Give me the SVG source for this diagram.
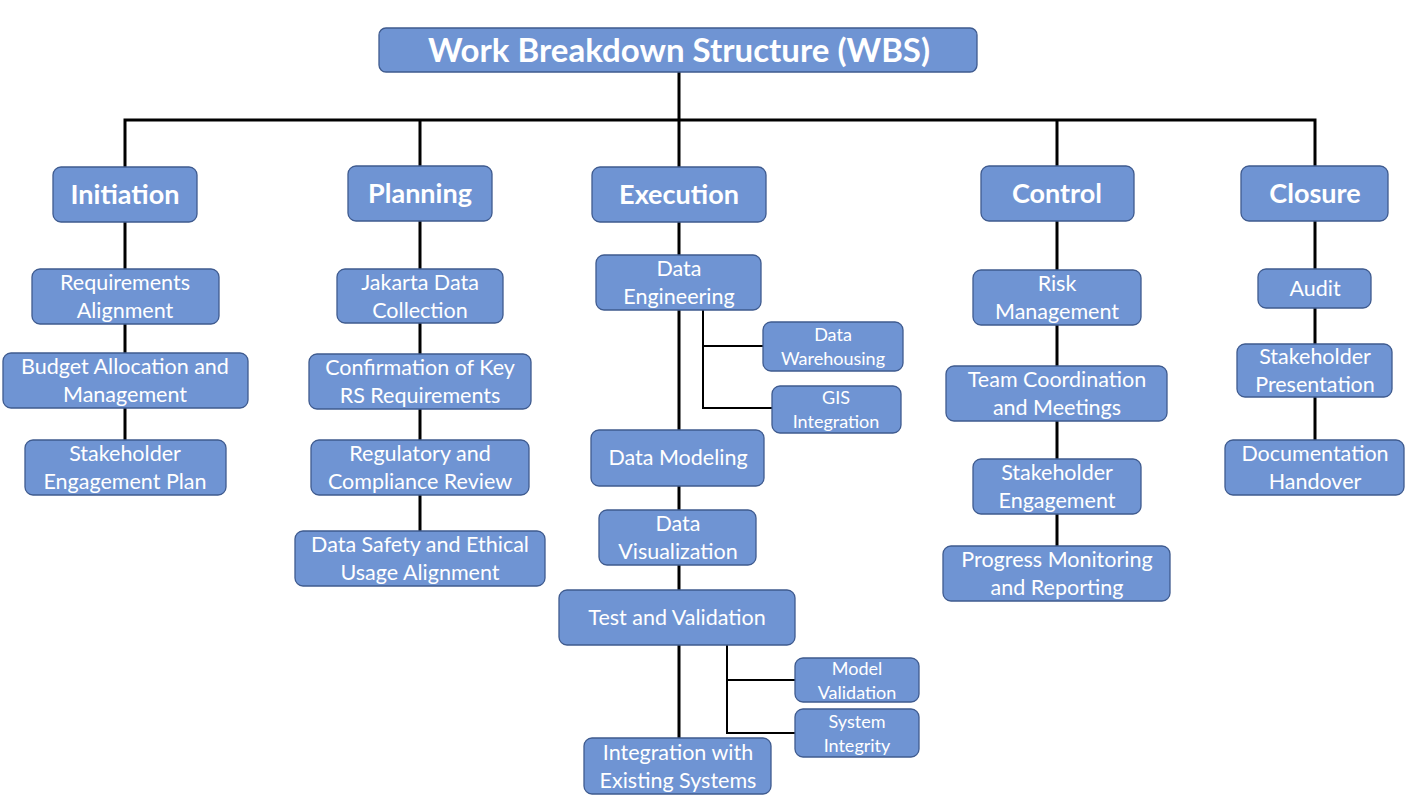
<svg xmlns="http://www.w3.org/2000/svg" width="1428" height="802" viewBox="0 0 1428 802">
<style>
.b{fill:#6f94d3;stroke:#3f5b8f;stroke-width:1.3}
.t{font-family:Lato,"Open Sans",sans-serif;fill:#fff;text-anchor:middle;font-size:21.5px}
.h{font-weight:bold;font-size:27px}
.ti{font-weight:bold;font-size:33px}
.s{font-size:18px}
.c{fill:none;stroke:#000;stroke-width:3;stroke-linecap:square}
.c2{fill:none;stroke:#000;stroke-width:2}
</style>
<rect width="1428" height="802" fill="#fff"/>
<g id="connectors">
<path class="c" d="M125 120H1315M125 120V440M420 120V531M679 72V738M1057 120V546M1315 120V440"/>
<path class="c2" d="M703 310V408H772M703 346H763M727 645V733H795M727 680H795"/>
</g>
<g id="wbs"><rect class="b" x="379" y="28" width="598" height="44" rx="7"/><text class="t ti" x="679" y="62">Work Breakdown Structure (WBS)</text></g>
<g id="initiation"><rect class="b" x="53" y="167" width="144" height="55" rx="8"/><text class="t h" x="125" y="204">Initiation</text></g>
<g id="planning"><rect class="b" x="348" y="166" width="144" height="55" rx="8"/><text class="t h" x="420" y="203">Planning</text></g>
<g id="execution"><rect class="b" x="592" y="167" width="174" height="55" rx="8"/><text class="t h" x="679" y="204">Execution</text></g>
<g id="control"><rect class="b" x="981" y="166" width="153" height="55" rx="8"/><text class="t h" x="1057" y="203">Control</text></g>
<g id="closure"><rect class="b" x="1241" y="166" width="147" height="55" rx="8"/><text class="t h" x="1315" y="203">Closure</text></g>

<g id="req"><rect class="b" x="32" y="269" width="187" height="55" rx="8"/><text class="t" x="125" y="290">Requirements</text><text class="t" x="125" y="318">Alignment</text></g>
<g id="budget"><rect class="b" x="3" y="353" width="245" height="55" rx="8"/><text class="t" x="125" y="374">Budget Allocation and</text><text class="t" x="125" y="402">Management</text></g>
<g id="stakeplan"><rect class="b" x="25" y="440" width="201" height="55" rx="8"/><text class="t" x="125" y="461">Stakeholder</text><text class="t" x="125" y="489">Engagement Plan</text></g>

<g id="jakarta"><rect class="b" x="337" y="269" width="166" height="54" rx="8"/><text class="t" x="420" y="290">Jakarta Data</text><text class="t" x="420" y="318">Collection</text></g>
<g id="confirm"><rect class="b" x="309" y="354" width="222" height="55" rx="8"/><text class="t" x="420" y="375">Confirmation of Key</text><text class="t" x="420" y="403">RS Requirements</text></g>
<g id="regulatory"><rect class="b" x="311" y="440" width="218" height="55" rx="8"/><text class="t" x="420" y="461">Regulatory and</text><text class="t" x="420" y="489">Compliance Review</text></g>
<g id="safety"><rect class="b" x="295" y="531" width="250" height="55" rx="8"/><text class="t" x="420" y="552">Data Safety and Ethical</text><text class="t" x="420" y="580">Usage Alignment</text></g>

<g id="dataeng"><rect class="b" x="596" y="255" width="165" height="55" rx="8"/><text class="t" x="679" y="276">Data</text><text class="t" x="679" y="304">Engineering</text></g>
<g id="warehouse"><rect class="b" x="763" y="322" width="140" height="49" rx="8"/><text class="t s" x="833" y="341">Data</text><text class="t s" x="833" y="365">Warehousing</text></g>
<g id="gis"><rect class="b" x="772" y="386" width="129" height="47" rx="8"/><text class="t s" x="836" y="404">GIS</text><text class="t s" x="836" y="428">Integration</text></g>
<g id="modeling"><rect class="b" x="591" y="430" width="173" height="56" rx="8"/><text class="t" x="678" y="465">Data Modeling</text></g>
<g id="visual"><rect class="b" x="599" y="510" width="157" height="55" rx="8"/><text class="t" x="678" y="531">Data</text><text class="t" x="678" y="559">Visualization</text></g>
<g id="test"><rect class="b" x="559" y="590" width="236" height="55" rx="8"/><text class="t" x="677" y="625">Test and Validation</text></g>
<g id="modelval"><rect class="b" x="795" y="658" width="124" height="44" rx="8"/><text class="t s" x="857" y="675">Model</text><text class="t s" x="857" y="699">Validation</text></g>
<g id="sysint"><rect class="b" x="795" y="709" width="124" height="48" rx="8"/><text class="t s" x="857" y="728">System</text><text class="t s" x="857" y="752">Integrity</text></g>
<g id="integration"><rect class="b" x="584" y="738" width="187" height="56" rx="8"/><text class="t" x="678" y="760">Integration with</text><text class="t" x="678" y="788">Existing Systems</text></g>

<g id="risk"><rect class="b" x="973" y="270" width="168" height="55" rx="8"/><text class="t" x="1057" y="291">Risk</text><text class="t" x="1057" y="319">Management</text></g>
<g id="team"><rect class="b" x="946" y="366" width="221" height="55" rx="8"/><text class="t" x="1057" y="387">Team Coordination</text><text class="t" x="1057" y="415">and Meetings</text></g>
<g id="stakeeng"><rect class="b" x="973" y="459" width="168" height="55" rx="8"/><text class="t" x="1057" y="480">Stakeholder</text><text class="t" x="1057" y="508">Engagement</text></g>
<g id="progress"><rect class="b" x="943" y="546" width="227" height="55" rx="8"/><text class="t" x="1057" y="567">Progress Monitoring</text><text class="t" x="1057" y="595">and Reporting</text></g>

<g id="audit"><rect class="b" x="1258" y="269" width="113" height="39" rx="8"/><text class="t" x="1315" y="296">Audit</text></g>
<g id="stakepres"><rect class="b" x="1237" y="344" width="155" height="53" rx="8"/><text class="t" x="1315" y="364">Stakeholder</text><text class="t" x="1315" y="392">Presentation</text></g>
<g id="doc"><rect class="b" x="1225" y="440" width="179" height="55" rx="8"/><text class="t" x="1315" y="461">Documentation</text><text class="t" x="1315" y="489">Handover</text></g>
</svg>
